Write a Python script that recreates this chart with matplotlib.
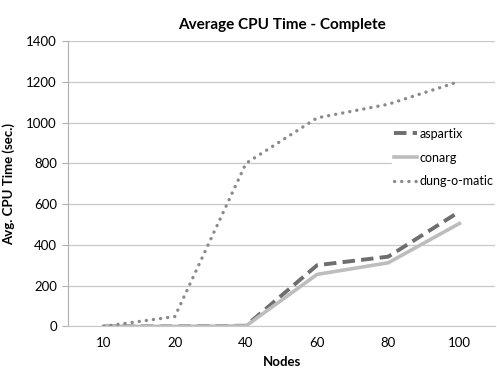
import numpy as np
import matplotlib.pyplot as plt

plt.rcParams['font.family'] = ['Lato', 'DejaVu Sans']

nodes = ['10', '20', '40', '60', '80', '100']
aspartix = [0, 0, 3, 300, 342, 563]
conarg = [0, 0, 2, 255, 312, 505]
dung_o_matic = [0, 48, 800, 1023, 1090, 1202]

fig = plt.figure(figsize=(4.97, 3.70), dpi=100)
ax = fig.add_axes([0.137, 0.118, 0.859, 0.771])

x = np.arange(len(nodes))
ax.plot(x, aspartix, color='#6e6e6e', lw=2.8, ls=(0, (3.2, 1.6)), label='aspartix')
ax.plot(x, conarg, color='#bdbdbd', lw=2.6, label='conarg')
ax.plot(x, dung_o_matic, color='#8a8a8a', lw=2.4, ls=(0, (0.05, 2.1)),
        dash_capstyle='round', label='dung-o-matic')

ax.set_xlim(-0.5, len(nodes) - 0.5)
ax.set_ylim(0, 1400)
ax.set_yticks(np.arange(0, 1401, 200))
ax.set_xticks(x)
ax.set_xticklabels(nodes)
ax.yaxis.grid(True, color='#c8c8c8', lw=0.9)
ax.set_axisbelow(True)
for s in ['top', 'right']:
    ax.spines[s].set_visible(False)
ax.spines['left'].set_color('#b0b0b0')
ax.spines['bottom'].set_color('#c8c8c8')
ax.tick_params(axis='y', length=4, color='#b0b0b0', labelsize=9.5, pad=4)
ax.tick_params(axis='x', length=0, labelsize=9.5, pad=8)

ax.set_title('Average CPU Time - Complete', fontsize=11, fontweight='bold', pad=9)
ax.set_xlabel('Nodes', fontsize=9.5, fontweight='bold', labelpad=5)
ax.set_ylabel('Avg. CPU Time (sec.)', fontsize=9.5, fontweight='bold', labelpad=8)

leg = ax.legend(loc='upper left', bbox_to_anchor=(0.758, 0.705), frameon=True,
                fontsize=9, handlelength=1.85, handletextpad=0.2,
                labelspacing=0.95, borderpad=0.2, borderaxespad=0)
leg.get_frame().set_edgecolor('white')
leg.get_frame().set_facecolor('white')
leg.get_frame().set_alpha(1)

fig.savefig('out.png', dpi=100)
